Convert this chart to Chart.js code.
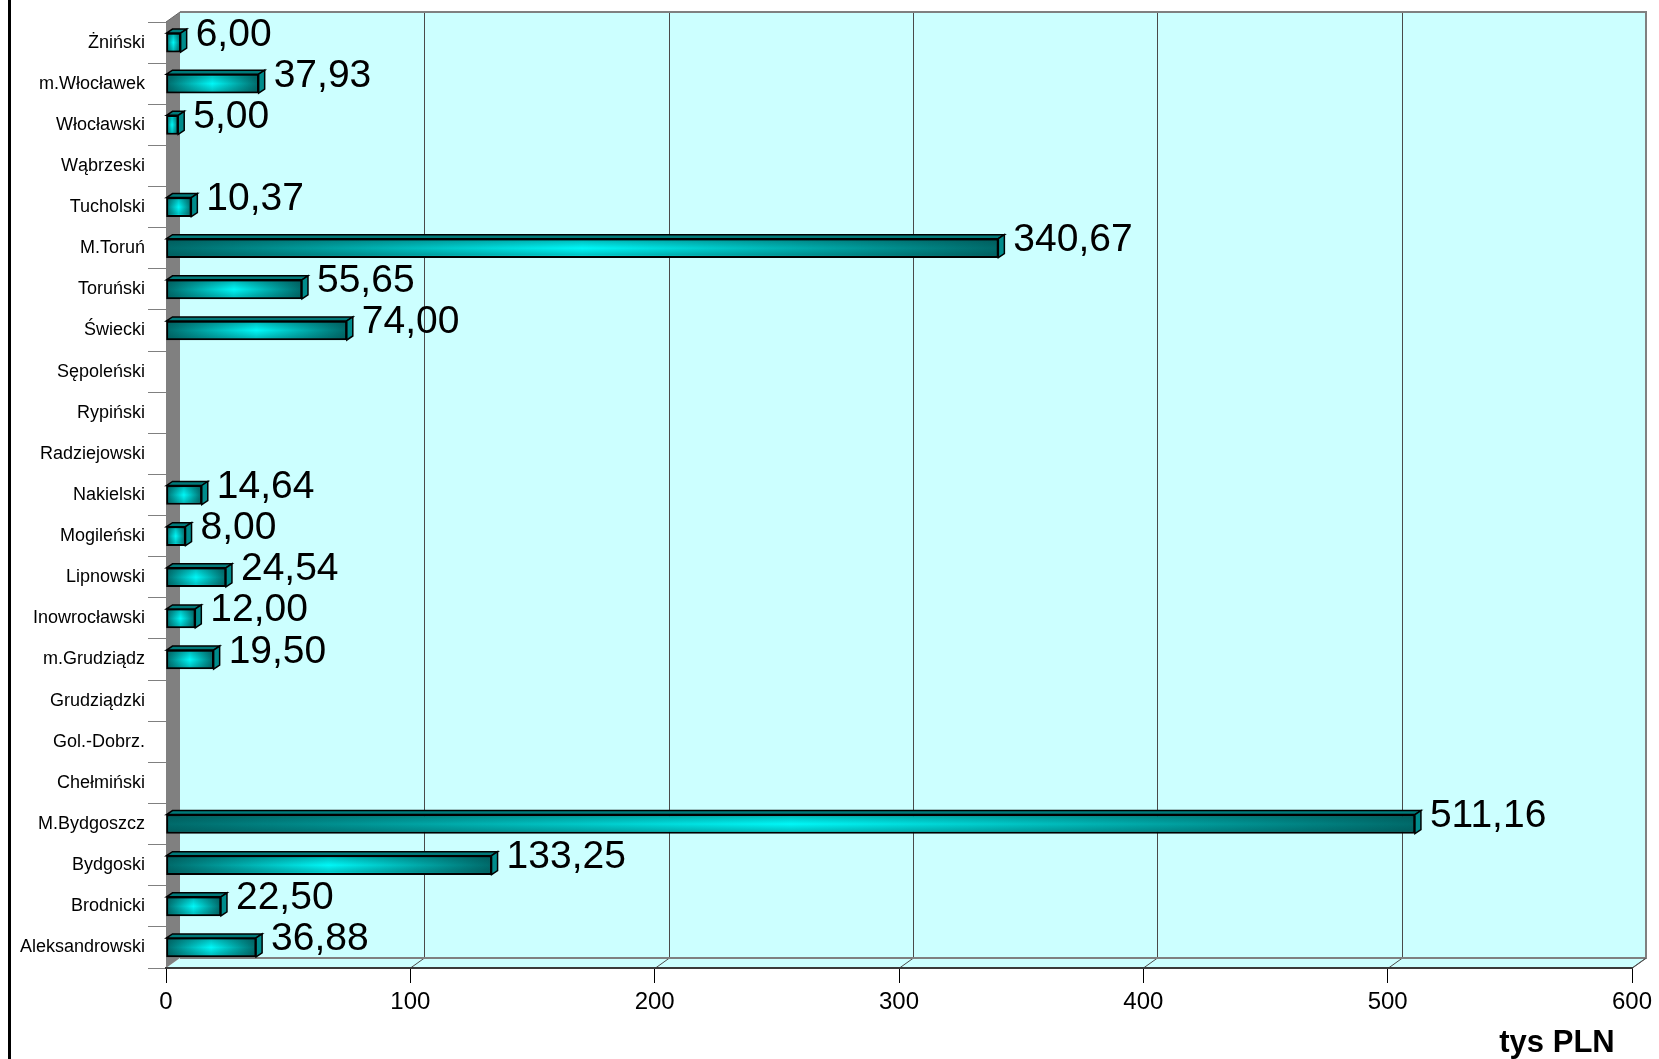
<!DOCTYPE html>
<html><head><meta charset="utf-8">
<script src="https://cdn.jsdelivr.net/npm/chart.js@4.4.1/dist/chart.umd.min.js"></script>
<style>html,body{margin:0;padding:0;background:#fff;} #wrap{width:1659px;height:1059px;position:relative;}</style>
</head><body><div id="wrap"><canvas id="c" width="1659" height="1059"></canvas></div>
<script>
const categories = ['Żniński','m.Włocławek','Włocławski','Wąbrzeski','Tucholski','M.Toruń','Toruński','Świecki','Sępoleński','Rypiński','Radziejowski','Nakielski','Mogileński','Lipnowski','Inowrocławski','m.Grudziądz','Grudziądzki','Gol.-Dobrz.','Chełmiński','M.Bydgoszcz','Bydgoski','Brodnicki','Aleksandrowski'];
const values = [6.00, 37.93, 5.00, null, 10.37, 340.67, 55.65, 74.00, null, null, null, 14.64, 8.00, 24.54, 12.00, 19.50, null, null, null, 511.16, 133.25, 22.50, 36.88];
const xTicks = [0, 100, 200, 300, 400, 500, 600];
const unitLabel = 'tys PLN';

const FONT = "'Liberation Sans', Arial, sans-serif";
const DX = 14, DY = 10;   // wall depth
const BDX = 6, BDY = 4;   // bar depth
const xMin = xTicks[0], xMax = xTicks[xTicks.length - 1];

function fmt(v) { return v.toFixed(2).replace('.', ','); }

function poly(ctx, pts) {
  ctx.beginPath();
  ctx.moveTo(pts[0][0], pts[0][1]);
  for (let i = 1; i < pts.length; i++) ctx.lineTo(pts[i][0], pts[i][1]);
  ctx.closePath();
}
function seg(ctx, x1, y1, x2, y2) {
  ctx.beginPath(); ctx.moveTo(x1, y1); ctx.lineTo(x2, y2); ctx.stroke();
}

const wallPlugin = {
  id: 'wall',
  beforeDraw(chart) {
    const { ctx, chartArea: a, scales: { x } } = chart;
    if (!a) return;
    ctx.save();
    ctx.fillStyle = '#000';
    ctx.fillRect(8, 0, 3, chart.height);
    ctx.fillStyle = '#CCFFFF';
    ctx.fillRect(a.left + DX, a.top - DY, a.right - a.left, a.bottom - a.top);
    poly(ctx, [[a.left, a.bottom], [a.left + DX, a.bottom - DY], [a.right + DX, a.bottom - DY], [a.right, a.bottom]]);
    ctx.fill();
    ctx.strokeStyle = '#4a4a4a';
    ctx.lineWidth = 1;
    xTicks.forEach(v => {
      const px = Math.round(x.getPixelForValue(v)) + 0.5;
      if (v > xMin && v < xMax) seg(ctx, px + DX, a.top - DY, px + DX, a.bottom - DY);
      if (v > xMin) seg(ctx, px, a.bottom, px + DX, a.bottom - DY);
    });
    ctx.strokeStyle = '#808080';
    ctx.lineWidth = 2;
    ctx.beginPath();
    ctx.moveTo(a.left + DX, a.top - DY);
    ctx.lineTo(a.right + DX, a.top - DY);
    ctx.lineTo(a.right + DX, a.bottom - DY);
    ctx.lineTo(a.left + DX, a.bottom - DY);
    ctx.stroke();
    ctx.strokeStyle = '#555';
    ctx.lineWidth = 1;
    seg(ctx, a.right, a.bottom, a.right + DX, a.bottom - DY);
    ctx.fillStyle = '#808080';
    poly(ctx, [[a.left, a.top], [a.left + DX, a.top - DY], [a.left + DX, a.bottom - DY], [a.left, a.bottom]]);
    ctx.fill();
    ctx.strokeStyle = '#666';
    seg(ctx, a.left, a.top, a.left + DX, a.top - DY);
    ctx.restore();
  },
  afterDatasetsDraw(chart) {
    const ctx = chart.ctx;
    const meta = chart.getDatasetMeta(0);
    ctx.save();
    meta.data.forEach((el, i) => {
      const v = values[i];
      if (v === null || v === undefined) return;
      const p = el.getProps(['x', 'y', 'base', 'height'], true);
      const left = Math.min(p.base, p.x), right = Math.max(p.base, p.x);
      const top = p.y - p.height / 2, bottom = p.y + p.height / 2;
      const g = ctx.createLinearGradient(0, top, 0, bottom);
      g.addColorStop(0, 'rgba(0,70,70,0.4)');
      g.addColorStop(0.5, 'rgba(0,70,70,0)');
      g.addColorStop(1, 'rgba(0,70,70,0.4)');
      ctx.fillStyle = g;
      ctx.fillRect(left + 2, top + 2, right - left - 4, bottom - top - 4);
      ctx.lineWidth = 1.5;
      ctx.strokeStyle = '#000';
      ctx.fillStyle = '#007a7a';
      poly(ctx, [[left, top], [left + BDX, top - BDY], [right + BDX, top - BDY], [right, top]]);
      ctx.fill(); ctx.stroke();
      ctx.fillStyle = '#008c8c';
      poly(ctx, [[right, top], [right + BDX, top - BDY], [right + BDX, bottom - BDY], [right, bottom]]);
      ctx.fill(); ctx.stroke();
      ctx.fillStyle = '#000';
      ctx.font = '39px ' + FONT;
      ctx.textAlign = 'left';
      ctx.textBaseline = 'alphabetic';
      ctx.fillText(fmt(v), right + 15, p.y + 3);
    });
    ctx.restore();
  },
  afterDraw(chart) {
    const ctx = chart.ctx;
    ctx.save();
    ctx.fillStyle = '#000';
    ctx.font = 'bold 31px ' + FONT;
    ctx.textAlign = 'center';
    ctx.textBaseline = 'alphabetic';
    ctx.fillText(unitLabel, 1557, 1052);
    ctx.restore();
  }
};

new Chart(document.getElementById('c'), {
  type: 'bar',
  data: {
    labels: categories,
    datasets: [{
      data: values,
      barThickness: 19,
      borderWidth: 2,
      borderColor: '#000',
      borderSkipped: false,
      backgroundColor(c) {
        const chart = c.chart, xs = chart.scales.x;
        if (!xs || !chart.chartArea || c.raw == null) return '#00cccc';
        const x0 = xs.getPixelForValue(0), x1 = xs.getPixelForValue(c.raw);
        if (!isFinite(x0) || !isFinite(x1) || x1 - x0 < 1) return '#00cccc';
        const g = chart.ctx.createLinearGradient(x0, 0, x1, 0);
        g.addColorStop(0, '#006a6a');
        g.addColorStop(0.5, '#00f8f8');
        g.addColorStop(1, '#006a6a');
        return g;
      }
    }]
  },
  options: {
    indexAxis: 'y',
    responsive: false,
    animation: false,
    devicePixelRatio: 1,
    layout: { padding: { top: 22, right: 27, left: 0, bottom: 0 } },
    plugins: { legend: { display: false }, tooltip: { enabled: false } },
    scales: {
      x: {
        min: xMin, max: xMax,
        afterBuildTicks(s) { s.ticks = xTicks.map(v => ({ value: v })); },
        afterFit(s) { s.height = 91; },
        ticks: { color: '#000', font: { family: FONT, size: 24 }, padding: 5, maxRotation: 0, autoSkip: false },
        grid: { drawOnChartArea: false, drawTicks: true, tickLength: 15, color: '#000', lineWidth: 1 },
        border: { display: true, color: '#3a3a3a', width: 2 }
      },
      y: {
        afterFit(s) { s.width = 166; },
        ticks: { color: '#000', font: { family: FONT, size: 18 }, padding: 3, autoSkip: false },
        grid: { offset: true, drawOnChartArea: false, drawTicks: true, tickLength: 18, color: '#808080', lineWidth: 1 },
        border: { display: false }
      }
    }
  },
  plugins: [wallPlugin]
});
</script>
</body></html>
